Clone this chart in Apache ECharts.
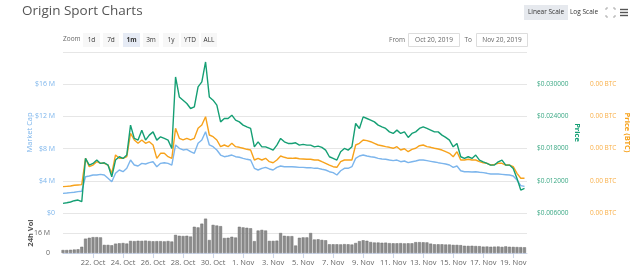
<!DOCTYPE html>
<html>
<head>
<meta charset="utf-8">
<script src="https://cdn.jsdelivr.net/npm/echarts@6/dist/echarts.min.js"></script>
<style>
html, body { margin: 0; padding: 0; background: #fff; }
#chart { width: 640px; height: 268px; }
</style>
</head>
<body>
<div id="chart"></div>
<script>
// samples every 6 hours from Oct 20, 2019
const startDate = new Date(2019, 9, 20).getTime()
const stepMs = 6 * 3600 * 1000
const endDate = new Date(2019, 10, 19, 22).getTime()

// market cap, millions USD
const marketCap = [
  2.44, 2.48, 2.53, 2.57, 2.65, 2.70, 4.51, 4.60, 4.72, 4.72, 4.80, 4.72,
  4.31, 3.89, 4.93, 5.34, 5.13, 5.55, 6.58, 5.96, 5.84, 6.17, 6.09, 6.25,
  6.37, 5.75, 6.17, 6.25, 6.17, 5.96, 8.45, 8.04, 7.83, 7.91, 7.62, 7.42,
  8.66, 9.07, 10.10, 8.45, 8.24, 7.83, 7.20, 6.99, 7.08, 7.20, 6.99, 6.92,
  6.79, 6.67, 6.58, 5.55, 5.34, 5.55, 5.67, 5.47, 5.34, 5.67, 5.84, 5.75,
  5.75, 5.75, 5.71, 5.67, 5.67, 5.63, 5.63, 5.55, 5.55, 5.43, 5.34, 5.13,
  5.01, 4.72, 5.25, 5.55, 5.55, 5.75, 6.79, 7.08, 7.20, 7.08, 6.99, 6.92,
  6.79, 6.71, 6.67, 6.58, 6.50, 6.58, 6.37, 6.46, 6.25, 6.37, 6.46, 6.58,
  6.58, 6.50, 6.42, 6.34, 6.25, 6.17, 6.09, 5.96, 5.67, 5.84, 5.25, 5.13,
  5.13, 5.09, 5.13, 5.06, 5.01, 4.93, 4.84, 4.84, 4.84, 4.80, 4.76, 4.72,
  4.60, 4.10, 3.40, 3.30
]

// price in USD
const priceUsd = [
  0.00780, 0.00792, 0.00805, 0.00829, 0.00842, 0.00810, 0.01617, 0.01493,
  0.01524, 0.01586, 0.01524, 0.01536, 0.01493, 0.01276, 0.01586, 0.01648,
  0.01617, 0.01679, 0.02237, 0.01989, 0.01958, 0.02144, 0.01958, 0.02051,
  0.02112, 0.01958, 0.02019, 0.01989, 0.01958, 0.01803, 0.03135, 0.02763,
  0.02702, 0.02640, 0.02547, 0.02577, 0.02949, 0.03042, 0.03414, 0.02763,
  0.02702, 0.02609, 0.02298, 0.02361, 0.02361, 0.02423, 0.02330, 0.02298,
  0.02237, 0.02205, 0.02175, 0.01833, 0.01926, 0.01833, 0.01833, 0.01803,
  0.01772, 0.01865, 0.01989, 0.01926, 0.01896, 0.01896, 0.01908, 0.01865,
  0.01878, 0.01865, 0.01865, 0.01833, 0.01846, 0.01822, 0.01772, 0.01648,
  0.01617, 0.01586, 0.01740, 0.01803, 0.01772, 0.01833, 0.02268, 0.02175,
  0.02391, 0.02361, 0.02330, 0.02298, 0.02237, 0.02205, 0.02175, 0.02112,
  0.02082, 0.02144, 0.02082, 0.02112, 0.02008, 0.02082, 0.02112, 0.02175,
  0.02205, 0.02175, 0.02144, 0.02112, 0.02112, 0.02051, 0.02008, 0.01958,
  0.01833, 0.01896, 0.01648, 0.01617, 0.01648, 0.01617, 0.01679, 0.01586,
  0.01554, 0.01524, 0.01493, 0.01493, 0.01554, 0.01586, 0.01493, 0.01493,
  0.01431, 0.01245, 0.01028, 0.01059
]

// price in BTC, satoshi
const priceBtc = [
  40.9, 41.4, 41.9, 43.0, 43.5, 44.0, 84.9, 71.9, 74.5, 79.7, 77.2, 77.2,
  74.5, 61.6, 90.1, 84.9, 84.9, 87.4, 123.8, 113.4, 108.2, 113.4, 108.2, 110.7,
  105.6, 84.9, 92.7, 92.7, 87.4, 84.9, 131.5, 116.0, 113.4, 116.0, 113.4, 116.0,
  131.5, 136.6, 149.5, 121.1, 118.5, 113.4, 103.0, 105.6, 103.0, 108.2, 103.0, 102.0,
  100.5, 98.9, 97.8, 82.3, 84.9, 82.3, 84.9, 79.7, 78.1, 82.3, 88.5, 86.5,
  84.9, 84.9, 85.4, 84.3, 83.9, 83.4, 83.4, 82.3, 82.3, 79.7, 77.2, 74.5,
  71.9, 71.0, 79.7, 82.3, 82.3, 82.3, 105.6, 108.2, 113.4, 112.3, 110.7, 108.2,
  105.6, 104.5, 103.0, 102.0, 100.5, 103.0, 97.8, 99.8, 95.2, 98.9, 100.5, 104.5,
  105.6, 103.0, 102.0, 100.5, 99.4, 97.8, 95.2, 92.7, 87.4, 95.2, 82.3, 82.3,
  83.4, 82.3, 82.3, 79.7, 78.1, 77.2, 74.5, 75.6, 77.2, 77.2, 74.5, 74.5,
  71.9, 61.6, 53.9, 53.9
]

// 24h volume, millions USD
const volume = [
  2.4, 2.4, 2.6, 2.8, 3.0, 5.0, 11.5, 12.2, 12.7, 12.7, 12.5, 6.5,
  6.5, 6.2, 7.5, 7.8, 8.0, 7.6, 9.7, 9.5, 9.8, 9.7, 9.9, 9.6,
  9.4, 9.5, 9.5, 9.3, 9.6, 9.2, 14.5, 13.8, 13.6, 13.8, 13.2, 21.0,
  20.5, 23.5, 27.5, 10.4, 22.5, 22.0, 21.5, 12.0, 12.2, 13.0, 12.4, 21.0,
  20.5, 20.2, 19.8, 9.5, 18.0, 18.5, 18.0, 9.7, 9.7, 9.9, 16.0, 13.8,
  13.5, 13.5, 6.0, 12.2, 12.5, 12.5, 16.0, 10.8, 11.0, 10.5, 10.2, 7.0,
  7.0, 7.0, 6.9, 7.1, 7.0, 6.8, 8.0, 9.5, 10.2, 9.8, 8.8, 8.4,
  8.4, 8.2, 8.3, 7.9, 7.8, 7.8, 7.9, 7.7, 7.8, 7.8, 8.7, 8.7,
  8.6, 8.5, 7.5, 7.0, 7.0, 7.0, 6.8, 6.8, 6.5, 6.5, 6.3, 5.8,
  5.7, 5.8, 5.6, 5.5, 5.1, 5.2, 5.0, 5.1, 5.2, 4.9, 5.3, 5.0,
  4.9, 4.8, 4.7, 4.6
]

const tickDates = [
  '2019-10-22', '2019-10-24', '2019-10-26', '2019-10-28', '2019-10-30',
  '2019-11-01', '2019-11-03', '2019-11-05', '2019-11-07', '2019-11-09',
  '2019-11-11', '2019-11-13', '2019-11-15', '2019-11-17', '2019-11-19'
]
const monthNames = ['Jan', 'Feb', 'Mar', 'Apr', 'May', 'Jun', 'Jul', 'Aug', 'Sep', 'Oct', 'Nov', 'Dec']

const zoomButtons = ['1d', '7d', '1m', '3m', '1y', 'YTD', 'ALL']
const zoomButtonX = [83, 103, 123, 143, 163, 181, 201]
const zoomButtonW = [17, 16, 17, 16, 16, 18, 16]

const toTime = (s) => {
  const p = s.split('-').map(Number)
  return new Date(p[0], p[1] - 1, p[2]).getTime()
}
const tickValues = tickDates.map(toTime)
const withTime = (arr) => arr.map((v, i) => [startDate + i * stepMs, v])

const blue = '#7cb5ec'
const green = '#159f74'
const orange = '#f7a21b'

const graphics = [
  {
    type: 'text', left: 22, top: 4,
    style: { text: 'Origin Sport Charts', font: '13.5px "Open Sans"', fill: '#555' }
  },
  { type: 'text', left: 63, top: 36, style: { text: 'Zoom', font: '6.5px "Open Sans"', fill: '#666' } },
  // scale buttons and icons
  { type: 'rect', shape: { x: 524, y: 5, width: 44, height: 15 }, style: { fill: '#e6e9ee' } },
  { type: 'text', x: 546, y: 12.5, style: { text: 'Linear Scale', font: '6.5px "Open Sans"', fill: '#333', align: 'center', verticalAlign: 'middle' } },
  { type: 'text', x: 584, y: 12.5, style: { text: 'Log Scale', font: '6.5px "Open Sans"', fill: '#333', align: 'center', verticalAlign: 'middle' } },
  { type: 'polyline', shape: { points: [[606, 10], [606, 8], [608, 8]] }, style: { stroke: '#aaa', lineWidth: 1, fill: null } },
  { type: 'polyline', shape: { points: [[613, 8], [615, 8], [615, 10]] }, style: { stroke: '#aaa', lineWidth: 1, fill: null } },
  { type: 'polyline', shape: { points: [[606, 15], [606, 17], [608, 17]] }, style: { stroke: '#aaa', lineWidth: 1, fill: null } },
  { type: 'polyline', shape: { points: [[613, 17], [615, 17], [615, 15]] }, style: { stroke: '#aaa', lineWidth: 1, fill: null } },
  { type: 'line', shape: { x1: 620, y1: 9.5, x2: 628, y2: 9.5 }, style: { stroke: '#555', lineWidth: 1.4 } },
  { type: 'line', shape: { x1: 620, y1: 12.5, x2: 628, y2: 12.5 }, style: { stroke: '#555', lineWidth: 1.4 } },
  { type: 'line', shape: { x1: 620, y1: 15.5, x2: 628, y2: 15.5 }, style: { stroke: '#555', lineWidth: 1.4 } },
  // date range inputs
  { type: 'text', x: 405, y: 40, style: { text: 'From', font: '6.5px "Open Sans"', fill: '#666', align: 'right', verticalAlign: 'middle' } },
  { type: 'rect', shape: { x: 408.5, y: 33.5, width: 51, height: 13 }, style: { fill: '#fff', stroke: '#ddd', lineWidth: 1 } },
  { type: 'text', x: 434, y: 40, style: { text: 'Oct 20, 2019', font: '6.5px "Open Sans"', fill: '#666', align: 'center', verticalAlign: 'middle' } },
  { type: 'text', x: 472, y: 40, style: { text: 'To', font: '6.5px "Open Sans"', fill: '#666', align: 'right', verticalAlign: 'middle' } },
  { type: 'rect', shape: { x: 476.5, y: 33.5, width: 51, height: 13 }, style: { fill: '#fff', stroke: '#ddd', lineWidth: 1 } },
  { type: 'text', x: 502, y: 40, style: { text: 'Nov 20, 2019', font: '6.5px "Open Sans"', fill: '#666', align: 'center', verticalAlign: 'middle' } }
]

zoomButtons.forEach((label, i) => {
  const active = label === '1m'
  graphics.push({
    type: 'rect',
    shape: { x: zoomButtonX[i], y: 33, width: zoomButtonW[i], height: 14 },
    style: { fill: active ? '#e6ebf5' : '#f7f7f7' }
  })
  graphics.push({
    type: 'text',
    x: zoomButtonX[i] + zoomButtonW[i] / 2, y: 40,
    style: {
      text: label, font: (active ? 'bold ' : '') + '6.5px "Open Sans"',
      fill: '#333', align: 'center', verticalAlign: 'middle'
    }
  })
})

const chart = echarts.init(document.getElementById('chart'))

const option = {
  animation: false,
  textStyle: { fontFamily: 'Open Sans' },
  graphic: graphics,
  grid: [
    { left: 63, right: 113, top: 52, height: 161 },
    { left: 63, right: 113, top: 213, height: 40 }
  ],
  xAxis: [
    {
      type: 'value', gridIndex: 0, min: startDate, max: endDate,
      show: false
    },
    {
      type: 'value', gridIndex: 1, min: startDate, max: endDate,
      axisLine: { lineStyle: { color: '#ccd6eb' } },
      axisTick: { customValues: tickValues, length: 5, lineStyle: { color: '#ccd6eb' } },
      splitLine: { show: false },
      axisLabel: {
        customValues: tickValues,
        color: '#666', fontSize: 7.5, margin: 6,
        formatter: (v) => {
          const d = new Date(v)
          return d.getDate() + '. ' + monthNames[d.getMonth()]
        }
      }
    }
  ],
  yAxis: [
    {
      type: 'value', gridIndex: 0, position: 'left', min: 0, max: 20, interval: 4,
      name: 'Market Cap', nameLocation: 'middle', nameGap: 29, nameRotate: 90,
      nameMoveOverlap: false,
      nameTextStyle: { color: blue, fontSize: 7.5 },
      axisLine: { show: false }, axisTick: { show: false },
      axisLabel: {
        color: blue, fontSize: 7, margin: 8, showMaxLabel: false,
        formatter: (v) => (v === 0 ? '$0' : '$' + v + ' M')
      },
      splitLine: { lineStyle: { color: '#e6e6e6' } }
    },
    {
      type: 'value', gridIndex: 0, position: 'right', min: 0.006, max: 0.036, interval: 0.006,
      name: 'Price', nameLocation: 'middle', nameGap: 46, nameRotate: -90,
      nameMoveOverlap: false,
      nameTextStyle: { color: green, fontSize: 7.5, fontWeight: 'bold' },
      axisLine: { show: false }, axisTick: { show: false },
      axisLabel: {
        color: '#3aa884', fontSize: 6.5, margin: 10, showMaxLabel: false,
        formatter: (v) => '$' + v.toFixed(6)
      },
      splitLine: { show: false }
    },
    {
      type: 'value', gridIndex: 0, position: 'right', offset: 60, min: 0, max: 250, interval: 50,
      name: 'Price (BTC)', nameLocation: 'middle', nameGap: 36, nameRotate: -90,
      nameMoveOverlap: false,
      nameTextStyle: { color: orange, fontSize: 7.5, fontWeight: 'bold' },
      axisLine: { show: false }, axisTick: { show: false },
      axisLabel: {
        color: '#f9b04a', fontSize: 6.5, margin: 3, showMaxLabel: false,
        formatter: (v) => (v / 1e8).toFixed(2) + ' BTC'
      },
      splitLine: { show: false }
    },
    {
      type: 'value', gridIndex: 1, position: 'left', min: 0, max: 32, interval: 16,
      name: '24h Vol', nameLocation: 'middle', nameGap: 28, nameRotate: 90,
      nameMoveOverlap: false,
      nameTextStyle: { color: '#555', fontSize: 7.5, fontWeight: 'bold' },
      axisLine: { show: false }, axisTick: { show: false },
      axisLabel: {
        color: '#666', fontSize: 7, margin: 13, showMaxLabel: false,
        formatter: (v) => (v === 0 ? '0' : v + ' M')
      },
      splitLine: { lineStyle: { color: '#e6e6e6' } }
    }
  ],
  series: [
    {
      name: 'Market Cap', type: 'line', xAxisIndex: 0, yAxisIndex: 0,
      data: withTime(marketCap), showSymbol: false,
      lineStyle: { color: blue, width: 1.4 }, itemStyle: { color: blue }
    },
    {
      name: 'Price (BTC)', type: 'line', xAxisIndex: 0, yAxisIndex: 2,
      data: withTime(priceBtc), showSymbol: false,
      lineStyle: { color: orange, width: 1.4 }, itemStyle: { color: orange }
    },
    {
      name: 'Price', type: 'line', xAxisIndex: 0, yAxisIndex: 1,
      data: withTime(priceUsd), showSymbol: false,
      lineStyle: { color: green, width: 1.4 }, itemStyle: { color: green }
    },
    {
      name: '24h Vol', type: 'bar', xAxisIndex: 1, yAxisIndex: 3,
      data: withTime(volume), barWidth: 3,
      itemStyle: { color: '#8c8c8c', borderColor: '#6e6e6e', borderWidth: 0.5 }
    }
  ]
}

chart.setOption(option)
</script>
</body>
</html>
